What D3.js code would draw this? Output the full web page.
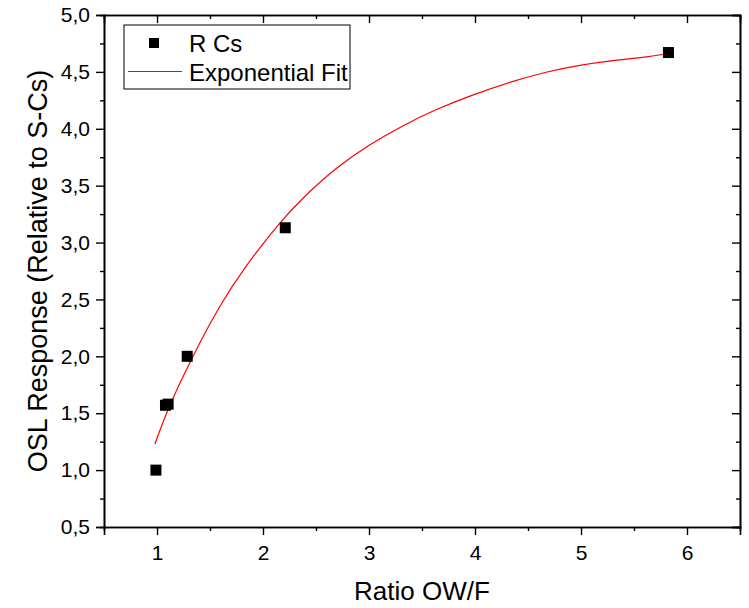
<!DOCTYPE html>
<html>
<head>
<meta charset="utf-8">
<script src="https://cdn.jsdelivr.net/npm/d3@7"></script>
<style>
	body { margin: 0; background: white; }
	text { font-family: Arial, "Liberation Sans", sans-serif; fill: #000; }
</style>
</head>
<body>
<div id="root"></div>
<script>
	//measured points
	const ratioX = [0.99, 1.08, 1.105, 1.285, 2.21, 5.825];
	const oslY = [1.0, 1.57, 1.58, 2.0, 3.13, 4.67];

	//exponential fit curve
	const fitX = [0.98, 1.11, 1.33, 1.59, 1.84, 2.15, 2.37, 2.69, 3.00, 3.32, 3.63, 3.95, 4.36, 4.67, 4.99, 5.30, 5.62, 5.82];
	const fitY = [1.23, 1.56, 1.99, 2.45, 2.80, 3.17, 3.39, 3.66, 3.86, 4.03, 4.17, 4.29, 4.42, 4.50, 4.56, 4.60, 4.63, 4.66];

	//tick values
	const xTicks = [1, 2, 3, 4, 5, 6];
	const xMinor = [1.5, 2.5, 3.5, 4.5, 5.5];
	const yTicks = [0.5, 1.0, 1.5, 2.0, 2.5, 3.0, 3.5, 4.0, 4.5, 5.0];
	const yMinor = [0.75, 1.25, 1.75, 2.25, 2.75, 3.25, 3.75, 4.25, 4.75];

	const width = 749;
	const height = 608;
	//plot frame
	const mLeft = 104, mRight = 740, mTop = 15, mBottom = 527;

	const svg = d3.select("#root")
	.append("svg")
	.attr("width", width)
	.attr("height", height);

	const xScale = d3.scaleLinear().domain([0.5, 6.5]).range([mLeft, mRight]);
	const yScale = d3.scaleLinear().domain([0.5, 5.0]).range([mBottom, mTop]);

	const oneDec = d3.format(".1f");
	const fmt = (d) => oneDec(d).replace(".", ",");

	//bottom axis, ticks outward
	svg.append("g")
	.attr("transform", "translate(0," + mBottom + ")")
	.call(d3.axisBottom(xScale).tickValues(xTicks).tickFormat(d3.format("d")).tickSize(8).tickPadding(10));
	svg.append("g")
	.attr("transform", "translate(0," + mBottom + ")")
	.call(d3.axisBottom(xScale).tickValues(xMinor).tickFormat("").tickSize(4));

	//left axis, ticks outward
	svg.append("g")
	.attr("transform", "translate(" + mLeft + ",0)")
	.call(d3.axisLeft(yScale).tickValues(yTicks).tickFormat(fmt).tickSize(8).tickPadding(6));
	svg.append("g")
	.attr("transform", "translate(" + mLeft + ",0)")
	.call(d3.axisLeft(yScale).tickValues(yMinor).tickFormat("").tickSize(4));

	//top and right axes, ticks inward, no labels
	svg.append("g")
	.attr("transform", "translate(0," + mTop + ")")
	.call(d3.axisTop(xScale).tickValues(xTicks).tickFormat("").tickSize(-8));
	svg.append("g")
	.attr("transform", "translate(0," + mTop + ")")
	.call(d3.axisTop(xScale).tickValues(xMinor).tickFormat("").tickSize(-4));
	svg.append("g")
	.attr("transform", "translate(" + mRight + ",0)")
	.call(d3.axisRight(yScale).tickValues(yTicks).tickFormat("").tickSize(-8));
	svg.append("g")
	.attr("transform", "translate(" + mRight + ",0)")
	.call(d3.axisRight(yScale).tickValues(yMinor).tickFormat("").tickSize(-4));

	svg.selectAll(".domain").attr("stroke", "#000").attr("stroke-width", 1.6);
	svg.selectAll(".tick line").attr("stroke", "#000").attr("stroke-width", 1.4);
	svg.selectAll(".tick text").style("font-size", "21px");

	//fit line, smoothed through the read points
	const fitData = fitX.map((x, i) => [x, fitY[i]]);
	svg.append("path")
	.datum(fitData)
	.attr("fill", "none")
	.attr("stroke", "#ff0000")
	.attr("stroke-width", 1.2)
	.attr("d", d3.line()
		.x((d) => xScale(d[0]))
		.y((d) => yScale(d[1]))
		.curve(d3.curveBasis));

	//data points
	const sq = 11;
	svg.selectAll("rect.pt")
	.data(ratioX)
	.enter()
	.append("rect")
	.attr("class", "pt")
	.attr("x", (d) => xScale(d) - sq / 2)
	.attr("y", (d, i) => yScale(oslY[i]) - sq / 2)
	.attr("width", sq)
	.attr("height", sq)
	.attr("fill", "#000");

	//legend
	const lg = svg.append("g").attr("transform", "translate(124,25)");
	lg.append("rect")
	.attr("width", 226)
	.attr("height", 64)
	.attr("fill", "white")
	.attr("stroke", "#000")
	.attr("stroke-width", 1);
	lg.append("rect")
	.attr("x", 25)
	.attr("y", 13)
	.attr("width", 10)
	.attr("height", 10)
	.attr("fill", "#000");
	lg.append("text")
	.attr("x", 65)
	.attr("y", 27)
	.style("font-size", "24px")
	.text("R Cs");
	lg.append("line")
	.attr("x1", 4)
	.attr("x2", 58)
	.attr("y1", 46.5)
	.attr("y2", 46.5)
	.attr("stroke", "#ff0000")
	.attr("stroke-width", 1);
	lg.append("text")
	.attr("x", 65)
	.attr("y", 56)
	.style("font-size", "24px")
	.text("Exponential Fit");

	//axis titles
	svg.append("text")
	.attr("x", (mLeft + mRight) / 2)
	.attr("y", 600)
	.attr("text-anchor", "middle")
	.style("font-size", "26px")
	.text("Ratio OW/F");

	svg.append("text")
	.attr("transform", "translate(47," + ((mTop + mBottom) / 2) + ") rotate(-90)")
	.attr("text-anchor", "middle")
	.style("font-size", "27px")
	.text("OSL Response (Relative to S-Cs)");
</script>
</body>
</html>
